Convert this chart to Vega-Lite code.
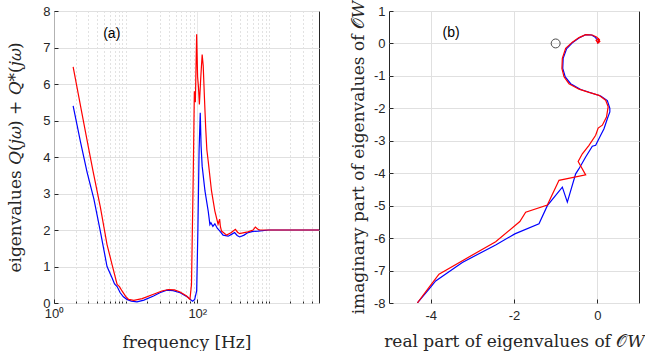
{
  "$schema": "https://vega.github.io/schema/vega-lite/v6.json",
  "background": "white",
  "padding": {"left": 6, "top": -1, "right": 0, "bottom": 0},
  "spacing": 28,
  "config": {
    "view": {"stroke": "#262626", "strokeWidth": 1},
    "axis": {
      "labelFont": "Liberation Sans", "labelFontSize": 13, "labelColor": "#262626", "labelOverlap": false,
      "titleFont": "DejaVu Serif", "titleFontSize": 17, "titleFontWeight": "normal", "titleColor": "#262626",
      "gridColor": "#e0e0e0", "gridWidth": 1, "domain": false,
      "tickColor": "#262626", "tickSize": -4, "labelPadding": 8
    }
  },
  "datasets": {
    "left": [
      {"f": 1.85, "v": 5.4, "s": "blue"}, {"f": 2.35, "v": 4.4, "s": "blue"}, {"f": 2.9, "v": 3.58, "s": "blue"},
      {"f": 3.6, "v": 2.85, "s": "blue"}, {"f": 4.45, "v": 1.95, "s": "blue"}, {"f": 5.5, "v": 1.0, "s": "blue"},
      {"f": 6.45, "v": 0.69, "s": "blue"}, {"f": 7.0, "v": 0.52, "s": "blue"}, {"f": 7.6, "v": 0.45, "s": "blue"},
      {"f": 8.4, "v": 0.28, "s": "blue"}, {"f": 9.3, "v": 0.17, "s": "blue"}, {"f": 10.4, "v": 0.1, "s": "blue"},
      {"f": 12, "v": 0.05, "s": "blue"}, {"f": 14.4, "v": 0.03, "s": "blue"}, {"f": 18, "v": 0.08, "s": "blue"},
      {"f": 24.5, "v": 0.19, "s": "blue"}, {"f": 30, "v": 0.28, "s": "blue"}, {"f": 37.5, "v": 0.35, "s": "blue"},
      {"f": 46, "v": 0.34, "s": "blue"}, {"f": 57.5, "v": 0.28, "s": "blue"}, {"f": 68, "v": 0.2, "s": "blue"},
      {"f": 75, "v": 0.15, "s": "blue"}, {"f": 82, "v": 0.08, "s": "blue"}, {"f": 86, "v": 0.05, "s": "blue"},
      {"f": 92, "v": 0.1, "s": "blue"}, {"f": 98, "v": 0.33, "s": "blue"}, {"f": 102, "v": 2.0, "s": "blue"},
      {"f": 106, "v": 4.2, "s": "blue"}, {"f": 110, "v": 5.21, "s": "blue"}, {"f": 113, "v": 4.3, "s": "blue"},
      {"f": 117, "v": 3.75, "s": "blue"}, {"f": 128, "v": 3.07, "s": "blue"}, {"f": 142, "v": 2.52, "s": "blue"},
      {"f": 150, "v": 2.15, "s": "blue"}, {"f": 155, "v": 2.2, "s": "blue"}, {"f": 165, "v": 2.1, "s": "blue"},
      {"f": 176, "v": 2.17, "s": "blue"}, {"f": 190, "v": 2.05, "s": "blue"}, {"f": 207, "v": 1.97, "s": "blue"},
      {"f": 229, "v": 1.86, "s": "blue"}, {"f": 270, "v": 1.83, "s": "blue"}, {"f": 300, "v": 1.88, "s": "blue"},
      {"f": 332, "v": 1.93, "s": "blue"}, {"f": 360, "v": 1.85, "s": "blue"}, {"f": 391, "v": 1.81, "s": "blue"},
      {"f": 450, "v": 1.86, "s": "blue"}, {"f": 510, "v": 1.93, "s": "blue"}, {"f": 600, "v": 1.96, "s": "blue"},
      {"f": 704, "v": 1.97, "s": "blue"}, {"f": 1000, "v": 2.0, "s": "blue"}, {"f": 5000, "v": 2.0, "s": "blue"},
      {"f": 1.85, "v": 6.47, "s": "red"}, {"f": 2.47, "v": 5.17, "s": "red"}, {"f": 3.0, "v": 4.3, "s": "red"},
      {"f": 3.5, "v": 3.62, "s": "red"}, {"f": 4.45, "v": 2.61, "s": "red"}, {"f": 5.5, "v": 1.6, "s": "red"},
      {"f": 6.45, "v": 1.06, "s": "red"}, {"f": 7.6, "v": 0.51, "s": "red"}, {"f": 8.2, "v": 0.45, "s": "red"},
      {"f": 8.9, "v": 0.33, "s": "red"}, {"f": 10, "v": 0.18, "s": "red"}, {"f": 11, "v": 0.1, "s": "red"},
      {"f": 13, "v": 0.07, "s": "red"}, {"f": 17, "v": 0.12, "s": "red"}, {"f": 24.5, "v": 0.24, "s": "red"},
      {"f": 32, "v": 0.33, "s": "red"}, {"f": 39.6, "v": 0.37, "s": "red"}, {"f": 48, "v": 0.36, "s": "red"},
      {"f": 57.5, "v": 0.3, "s": "red"}, {"f": 71, "v": 0.19, "s": "red"}, {"f": 76, "v": 0.13, "s": "red"},
      {"f": 79, "v": 0.1, "s": "red"}, {"f": 83, "v": 0.51, "s": "red"}, {"f": 88, "v": 3.6, "s": "red"},
      {"f": 91, "v": 5.8, "s": "red"}, {"f": 94, "v": 5.5, "s": "red"}, {"f": 98, "v": 7.36, "s": "red"},
      {"f": 101, "v": 6.2, "s": "red"}, {"f": 104, "v": 5.9, "s": "red"}, {"f": 107, "v": 5.44, "s": "red"},
      {"f": 112, "v": 6.2, "s": "red"}, {"f": 117, "v": 6.81, "s": "red"}, {"f": 121, "v": 6.5, "s": "red"},
      {"f": 126, "v": 5.6, "s": "red"}, {"f": 131, "v": 4.8, "s": "red"}, {"f": 136, "v": 4.2, "s": "red"},
      {"f": 142, "v": 3.89, "s": "red"}, {"f": 158, "v": 3.07, "s": "red"}, {"f": 176, "v": 2.52, "s": "red"},
      {"f": 195, "v": 2.16, "s": "red"}, {"f": 205, "v": 2.3, "s": "red"}, {"f": 210, "v": 2.1, "s": "red"},
      {"f": 218, "v": 1.97, "s": "red"}, {"f": 257, "v": 1.86, "s": "red"}, {"f": 299, "v": 1.93, "s": "red"},
      {"f": 340, "v": 2.02, "s": "red"}, {"f": 365, "v": 1.94, "s": "red"}, {"f": 391, "v": 1.9, "s": "red"},
      {"f": 450, "v": 1.93, "s": "red"}, {"f": 510, "v": 1.95, "s": "red"}, {"f": 600, "v": 2.0, "s": "red"},
      {"f": 646, "v": 2.08, "s": "red"}, {"f": 700, "v": 2.02, "s": "red"}, {"f": 748, "v": 2.0, "s": "red"},
      {"f": 975, "v": 2.0, "s": "red"}, {"f": 5000, "v": 2.0, "s": "red"}
    ],
    "right": [
      {"i": 0, "re": 0.0, "im": 0.0, "s": "blue"}, {"i": 1, "re": 0.04, "im": 0.08, "s": "blue"},
      {"i": 2, "re": -0.02, "im": 0.14, "s": "blue"}, {"i": 3, "re": -0.06, "im": 0.2, "s": "blue"},
      {"i": 4, "re": -0.14, "im": 0.26, "s": "blue"}, {"i": 5, "re": -0.28, "im": 0.27, "s": "blue"},
      {"i": 6, "re": -0.44, "im": 0.17, "s": "blue"}, {"i": 7, "re": -0.6, "im": 0.02, "s": "blue"},
      {"i": 8, "re": -0.74, "im": -0.17, "s": "blue"}, {"i": 9, "re": -0.82, "im": -0.46, "s": "blue"},
      {"i": 10, "re": -0.83, "im": -0.77, "s": "blue"}, {"i": 11, "re": -0.77, "im": -1.03, "s": "blue"},
      {"i": 12, "re": -0.64, "im": -1.24, "s": "blue"}, {"i": 13, "re": -0.4, "im": -1.42, "s": "blue"},
      {"i": 14, "re": -0.16, "im": -1.52, "s": "blue"}, {"i": 15, "re": 0.08, "im": -1.62, "s": "blue"},
      {"i": 16, "re": 0.24, "im": -1.76, "s": "blue"}, {"i": 17, "re": 0.3, "im": -2.0, "s": "blue"},
      {"i": 18, "re": 0.3, "im": -2.11, "s": "blue"}, {"i": 19, "re": 0.24, "im": -2.32, "s": "blue"},
      {"i": 20, "re": 0.16, "im": -2.63, "s": "blue"}, {"i": 21, "re": 0.08, "im": -2.83, "s": "blue"},
      {"i": 22, "re": -0.04, "im": -3.14, "s": "blue"}, {"i": 23, "re": -0.12, "im": -3.17, "s": "blue"},
      {"i": 24, "re": -0.28, "im": -3.5, "s": "blue"}, {"i": 25, "re": -0.44, "im": -3.86, "s": "blue"},
      {"i": 26, "re": -0.52, "im": -4.02, "s": "blue"}, {"i": 27, "re": -0.72, "im": -4.89, "s": "blue"},
      {"i": 28, "re": -0.84, "im": -4.43, "s": "blue"}, {"i": 29, "re": -1.2, "im": -5.0, "s": "blue"},
      {"i": 30, "re": -1.4, "im": -5.56, "s": "blue"}, {"i": 31, "re": -1.98, "im": -5.87, "s": "blue"},
      {"i": 32, "re": -2.44, "im": -6.21, "s": "blue"}, {"i": 33, "re": -3.24, "im": -6.75, "s": "blue"},
      {"i": 34, "re": -3.88, "im": -7.32, "s": "blue"}, {"i": 35, "re": -4.04, "im": -7.57, "s": "blue"},
      {"i": 36, "re": -4.32, "im": -8.0, "s": "blue"},
      {"i": 0, "re": 0.0, "im": 0.0, "s": "red"}, {"i": 1, "re": 0.06, "im": 0.06, "s": "red"},
      {"i": 2, "re": 0.03, "im": 0.14, "s": "red"}, {"i": 3, "re": -0.03, "im": 0.1, "s": "red"},
      {"i": 4, "re": 0.0, "im": 0.04, "s": "red"}, {"i": 5, "re": 0.05, "im": 0.12, "s": "red"},
      {"i": 6, "re": -0.02, "im": 0.2, "s": "red"}, {"i": 7, "re": -0.12, "im": 0.26, "s": "red"},
      {"i": 8, "re": -0.28, "im": 0.27, "s": "red"}, {"i": 9, "re": -0.44, "im": 0.18, "s": "red"},
      {"i": 10, "re": -0.6, "im": 0.04, "s": "red"}, {"i": 11, "re": -0.76, "im": -0.15, "s": "red"},
      {"i": 12, "re": -0.84, "im": -0.46, "s": "red"}, {"i": 13, "re": -0.85, "im": -0.77, "s": "red"},
      {"i": 14, "re": -0.8, "im": -1.03, "s": "red"}, {"i": 15, "re": -0.68, "im": -1.24, "s": "red"},
      {"i": 16, "re": -0.44, "im": -1.41, "s": "red"}, {"i": 17, "re": -0.2, "im": -1.51, "s": "red"},
      {"i": 18, "re": 0.04, "im": -1.6, "s": "red"}, {"i": 19, "re": 0.2, "im": -1.75, "s": "red"},
      {"i": 20, "re": 0.26, "im": -1.95, "s": "red"}, {"i": 21, "re": 0.22, "im": -2.27, "s": "red"},
      {"i": 22, "re": 0.12, "im": -2.52, "s": "red"}, {"i": 23, "re": 0.02, "im": -2.61, "s": "red"},
      {"i": 24, "re": -0.04, "im": -2.83, "s": "red"}, {"i": 25, "re": -0.2, "im": -3.14, "s": "red"},
      {"i": 26, "re": -0.36, "im": -3.4, "s": "red"}, {"i": 27, "re": -0.46, "im": -3.64, "s": "red"},
      {"i": 28, "re": -0.28, "im": -4.05, "s": "red"}, {"i": 29, "re": -0.92, "im": -4.22, "s": "red"},
      {"i": 30, "re": -1.2, "im": -4.98, "s": "red"}, {"i": 31, "re": -1.72, "im": -5.2, "s": "red"},
      {"i": 32, "re": -1.86, "im": -5.49, "s": "red"}, {"i": 33, "re": -2.44, "im": -6.11, "s": "red"},
      {"i": 34, "re": -3.8, "im": -7.11, "s": "red"}, {"i": 35, "re": -4.04, "im": -7.52, "s": "red"},
      {"i": 36, "re": -4.32, "im": -8.0, "s": "red"}
    ],
    "labelsA": [{"f": 6.4, "v": 7.37, "t": "(a)"}],
    "labelsB": [{"re": -3.51, "im": 0.31, "t": "(b)"}],
    "crit": [{"re": -1, "im": 0}]
  },
  "hconcat": [
    {
      "width": 265, "height": 292,
      "layer": [
        {
          "data": {"name": "left"},
          "mark": {"type": "line", "strokeWidth": 1.2, "clip": true},
          "encoding": {
            "x": {"field": "f", "type": "quantitative",
              "scale": {"type": "log", "domain": [1, 5000], "nice": false},
              "axis": {
                "title": "frequency [Hz]", "titlePadding": 12,
                "values": [1, 2, 3, 4, 5, 6, 7, 8, 9, 10, 20, 30, 40, 50, 60, 70, 80, 90, 100, 200, 300, 400, 500, 600, 700, 800, 900, 1000, 2000, 3000, 4000],
                "labelExpr": "datum.value == 1 ? '10⁰' : (datum.value == 100 ? '10²' : '')",
                "labelFlush": false, "labelPadding": 8,
                "gridDash": {"condition": {"test": "datum.value == 1 || datum.value == 100", "value": [1, 0]}, "value": [1, 3]},
                "gridColor": {"condition": {"test": "datum.value == 1 || datum.value == 100", "value": "#e0e0e0"}, "value": "#c4c4c4"},
                "tickSize": {"condition": {"test": "datum.value == 1 || datum.value == 100", "value": -4}, "value": -2}
              }},
            "y": {"field": "v", "type": "quantitative",
              "scale": {"domain": [0, 8], "nice": false},
              "axis": {"title": "eigenvalues 𝑄(𝑗𝜔) + 𝑄*(𝑗𝜔)", "values": [0, 1, 2, 3, 4, 5, 6, 7, 8], "titlePadding": 18, "labelOverlap": false}},
            "color": {"field": "s", "type": "nominal",
              "scale": {"domain": ["blue", "red"], "range": ["#0000ff", "#ff0000"]}, "legend": null}
          }
        },
        {
          "data": {"name": "labelsA"},
          "mark": {"type": "text", "font": "Liberation Sans", "fontSize": 14, "color": "#000000"},
          "encoding": {
            "x": {"field": "f", "type": "quantitative"},
            "y": {"field": "v", "type": "quantitative", "axis": {"values": [0, 1, 2, 3, 4, 5, 6, 7, 8]}},
            "text": {"field": "t"}
          }
        }
      ]
    },
    {
      "width": 250, "height": 292,
      "layer": [
        {
          "data": {"name": "right"},
          "mark": {"type": "line", "strokeWidth": 1.2, "clip": true},
          "encoding": {
            "x": {"field": "re", "type": "quantitative",
              "scale": {"domain": [-5, 1], "nice": false, "zero": false},
              "axis": {"title": "real part of eigenvalues of 𝒪𝑊", "values": [-4, -2, 0],
                "labelExpr": "replace(datum.label, '−', '-')", "titlePadding": 11, "labelPadding": 10}},
            "y": {"field": "im", "type": "quantitative",
              "scale": {"domain": [-8, 1], "nice": false, "zero": false},
              "axis": {"title": "imaginary part of eigenvalues of 𝒪𝑊", "values": [-8, -7, -6, -5, -4, -3, -2, -1, 0, 1],
                "labelExpr": "replace(datum.label, '−', '-')", "titlePadding": 6, "labelOverlap": false}},
            "order": {"field": "i", "type": "quantitative"},
            "color": {"field": "s", "type": "nominal",
              "scale": {"domain": ["blue", "red"], "range": ["#0000ff", "#ff0000"]}, "legend": null}
          }
        },
        {
          "data": {"name": "crit"},
          "mark": {"type": "point", "shape": "circle", "size": 80, "filled": false, "stroke": "#000000", "strokeWidth": 1},
          "encoding": {
            "x": {"field": "re", "type": "quantitative"},
            "y": {"field": "im", "type": "quantitative", "axis": {"values": [-8, -7, -6, -5, -4, -3, -2, -1, 0, 1]}}
          }
        },
        {
          "data": {"name": "labelsB"},
          "mark": {"type": "text", "font": "Liberation Sans", "fontSize": 14, "color": "#000000"},
          "encoding": {
            "x": {"field": "re", "type": "quantitative"},
            "y": {"field": "im", "type": "quantitative", "axis": {"values": [-8, -7, -6, -5, -4, -3, -2, -1, 0, 1]}},
            "text": {"field": "t"}
          }
        }
      ]
    }
  ]
}
